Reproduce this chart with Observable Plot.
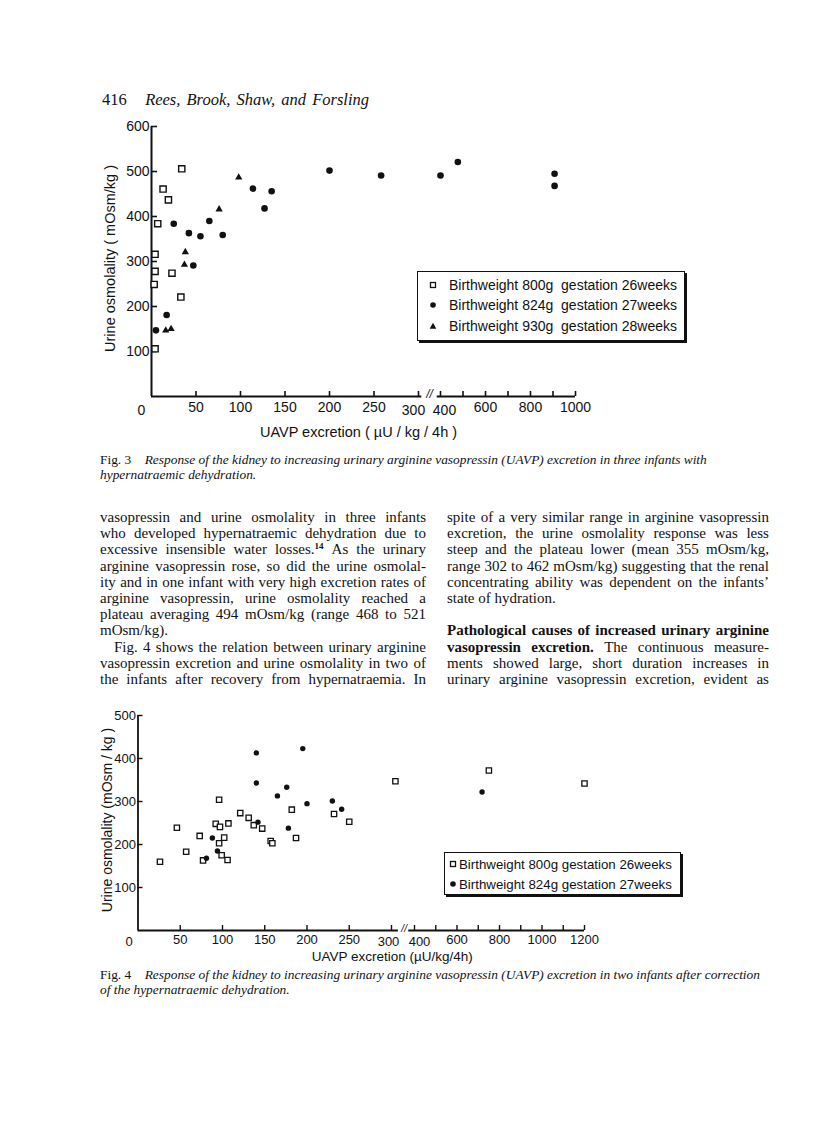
<!DOCTYPE html>
<html>
<head>
<meta charset="utf-8">
<script src="https://cdn.jsdelivr.net/npm/d3@7"></script>
<script src="https://cdn.jsdelivr.net/npm/@observablehq/plot@0.6"></script>
<style>
  body { margin: 0; background: #fff; }
  #page { position: relative; width: 816px; height: 1132px; overflow: hidden; background: #fff; color: #111; }
  .abs { position: absolute; white-space: nowrap; }
  .serif { font-family: "Liberation Serif", "Times New Roman", serif; }
  .sans { font-family: "Liberation Sans", Arial, sans-serif; }
  .line { position: absolute; display: flex; justify-content: space-between; align-items: baseline; white-space: nowrap; height: 16px; line-height: 16px; font-size: 15px; }
  .line.last { justify-content: flex-start; }
  .line.last span { margin-right: 0.25em; }
  .line sup { font-size: 9px; line-height: 0; vertical-align: 5px; font-weight: bold; }
  .legend { position: absolute; box-sizing: border-box; border: 1.6px solid #111; box-shadow: 2px 2px 0 #111; background: #fff; }
  .legrow { position: absolute; white-space: nowrap; display: flex; align-items: center; }
  .plotwrap { position: absolute; left: 0; }
</style>
</head>
<body>
<div id="page"></div>
<script>
// ---------------- Fig. 3 data (UAVP excretion, urine osmolality) ----------------
const fig3_800g = [[4,106],[34,506],[13,461],[19,437],[7,384],[4,316],[4,278],[3,249],[23,274],[33,221]];
const fig3_824g = [[5,147],[17,181],[25,384],[42,363],[47,291],[55,356],[65,390],[80,359],[114,462],[127,418],[135,456],[200,502],[258,491],[400,491],[477,521],[907,495],[907,468]];
const fig3_930g = [[16,147],[22,150],[38,321],[37,293],[76,416],[98,487]];
const fig3XDomain = [0, 300, 400, 1000];
const fig3XTicks = [50,100,150,200,250,300,400,500,600,700,800,900,1000];
const fig3XLabels = [50,100,150,200,250,600,800,1000];
const fig3YTicks = [100,200,300,400,500,600];
const fig3Legend = ["Birthweight 800g\u00a0\u00a0gestation 26weeks", "Birthweight 824g\u00a0\u00a0gestation 27weeks", "Birthweight 930g\u00a0\u00a0gestation 28weeks"];

// ---------------- Fig. 4 data ----------------
const fig4_800g = [[26,160],[46,239],[57,183],[73,220],[77,163],[96,304],[92,248],[97,241],[96,203],[99,175],[102,216],[106,164],[107,249],[121,273],[131,262],[137,245],[147,237],[157,208],[159,203],[182,281],[187,215],[232,271],[250,253],[317,347],[750,372],[1200,342]];
const fig4_824g = [[140,413],[195,423],[140,343],[176,333],[165,313],[200,295],[230,301],[241,282],[142,252],[178,238],[88,215],[94,185],[81,168],[718,322]];
const fig4XDomain = [0, 300, 400, 1200];
const fig4XTicks = [50,100,150,200,250,300,400,500,600,700,800,900,1000,1100,1200];
const fig4XLabels = [50,100,150,200,250,600,800,1000,1200];
const fig4YTicks = [100,200,300,400,500];
const fig4Legend = ["Birthweight 800g gestation 26weeks", "Birthweight 824g gestation 27weeks"];

// ---------------- Page text ----------------
const headerNum = "416";
const headerAuthors = "Rees, Brook, Shaw, and Forsling";
const fig3Caption = ["<span style='font-style:normal'>Fig. 3</span>&nbsp;&nbsp;&nbsp; Response of the kidney to increasing urinary arginine vasopressin (UAVP) excretion in three infants with", "hypernatraemic dehydration."];
const fig4Caption = ["<span style='font-style:normal'>Fig. 4</span>&nbsp;&nbsp;&nbsp; Response of the kidney to increasing urinary arginine vasopressin (UAVP) excretion in two infants after correction", "of the hypernatraemic dehydration."];
const leftLines = [
  {t: "vasopressin and urine osmolality in three infants"},
  {t: "who developed hypernatraemic dehydration due to"},
  {t: "excessive insensible water losses.^14 As the urinary"},
  {t: "arginine vasopressin rose, so did the urine osmolal-"},
  {t: "ity and in one infant with very high excretion rates of"},
  {t: "arginine vasopressin, urine osmolality reached a"},
  {t: "plateau averaging 494 mOsm/kg (range 468 to 521"},
  {t: "mOsm/kg).", last: true},
  {t: "Fig. 4 shows the relation between urinary arginine", indent: true},
  {t: "vasopressin excretion and urine osmolality in two of"},
  {t: "the infants after recovery from hypernatraemia. In"}
];
const rightLines = [
  {t: "spite of a very similar range in arginine vasopressin"},
  {t: "excretion, the urine osmolality response was less"},
  {t: "steep and the plateau lower (mean 355 mOsm/kg,"},
  {t: "range 302 to 462 mOsm/kg) suggesting that the renal"},
  {t: "concentrating ability was dependent on the infants\u2019"},
  {t: "state of hydration.", last: true},
  null,
  {t: "**Pathological **causes **of **increased **urinary **arginine"},
  {t: "**vasopressin **excretion. The continuous measure-"},
  {t: "ments showed large, short duration increases in"},
  {t: "urinary arginine vasopressin excretion, evident as"}
];

const page = document.getElementById("page");
function addDiv(cls, style, html) {
  const d = document.createElement("div");
  d.className = cls;
  d.setAttribute("style", style);
  d.innerHTML = html;
  page.appendChild(d);
  return d;
}

// header
addDiv("abs serif", "left:102px;top:91px;font-size:16.5px;line-height:18px;word-spacing:2px;",
  headerNum + "&nbsp;&nbsp;&nbsp;<i>" + headerAuthors + "</i>");

// body text
function wordHtml(w) {
  let bold = false;
  if (w.startsWith("**")) { bold = true; w = w.slice(2); }
  w = w.replace(/\^(\d+)/, "<sup>$1</sup>");
  return bold ? "<span style='font-weight:bold'>" + w + "</span>" : "<span>" + w + "</span>";
}
function drawColumn(lines, left, width) {
  lines.forEach((ln, i) => {
    if (!ln) return;
    const top = 517 + 16.2 * i - 8;
    const ind = ln.indent ? 14 : 0;
    addDiv("line serif" + (ln.last ? " last" : ""), `left:${left + ind}px;top:${top}px;width:${width - ind}px;`,
      ln.t.split(" ").map(wordHtml).join(""));
  });
}
drawColumn(leftLines, 100, 326);
drawColumn(rightLines, 447, 322);

// captions
function caption(lines, y0) {
  lines.forEach((l, i) => addDiv("abs serif", `left:100px;top:${y0 + i * 14.5 - 8}px;font-size:13.4px;line-height:16px;font-style:italic;`, l));
}
caption(fig3Caption, 460);
caption(fig4Caption, 975);

// legends
function marker(shape) {
  if (shape === "square") return "<svg width='10' height='10'><rect x='2.5' y='2.5' width='5' height='5' fill='#fff' stroke='#111' stroke-width='1.3'/></svg>";
  if (shape === "circle") return "<svg width='10' height='10'><circle cx='5' cy='5' r='2.8' fill='#111'/></svg>";
  return "<svg width='10' height='10'><polygon points='5,1.8 8.3,7.8 1.7,7.8' fill='#111'/></svg>";
}
function legend(box, items, shapes, rowYs, mx, tx, fs) {
  const lg = addDiv("legend", `left:${box[0]}px;top:${box[1]}px;width:${box[2]}px;height:${box[3]}px;`, "");
  items.forEach((t, i) => {
    const r = document.createElement("div");
    r.className = "legrow sans";
    r.setAttribute("style", `left:${mx - 5}px;top:${rowYs[i] - 9}px;height:18px;font-size:${fs}px;color:#111;`);
    r.innerHTML = marker(shapes[i]) + `<span style="margin-left:${tx - mx - 5}px">${t}</span>`;
    lg.appendChild(r);
  });
}

// ---------------- Fig. 3 plot ----------------
const F3 = 14;
const fig3 = Plot.plot({
  width: 816, height: 330,
  marginLeft: 151, marginRight: 241, marginTop: 16, marginBottom: 44,
  x: {type: "linear", domain: fig3XDomain, range: [151, 418, 440, 575]},
  y: {type: "linear", domain: [0, 600], range: [286, 16]},
  style: {fontFamily: "'Liberation Sans', Arial, sans-serif", fontSize: F3 + "px", color: "#111", background: "transparent", overflow: "visible"},
  marks: [
    Plot.ruleX([0], {y1: 0, y2: 600, stroke: "#111", strokeWidth: 2}),
    Plot.ruleY([0], {x1: 0, x2: 315, stroke: "#111", strokeWidth: 2}),
    Plot.ruleY([0], {x1: 385, x2: 1000, stroke: "#111", strokeWidth: 2}),
    Plot.text(["//"], {x: 350, y: 0, dy: -2, text: d => d, fontSize: 12, fontStyle: "italic", fill: "#111"}),
    Plot.ruleX(fig3XTicks, {x: d => d, y1: 0, y2: 0, insetBottom: 5, stroke: "#111", strokeWidth: 1.6}),
    Plot.ruleY(fig3YTicks, {y: d => d, x1: 0, x2: 0, insetRight: -6, stroke: "#111", strokeWidth: 1.6}),
    Plot.axisX({ticks: fig3XLabels, tickSize: 0, tickPadding: 6, tickFormat: d => String(d), label: null, fontSize: F3}),
    Plot.text(["0"], {x: 0, y: 0, dx: -10, dy: 14, text: d => d, fontSize: F3, fill: "#111"}),
    Plot.text(["300"], {x: 300, y: 0, dx: -5, dy: 14, text: d => d, fontSize: F3, fill: "#111"}),
    Plot.text(["400"], {x: 400, y: 0, dx: 4, dy: 14, text: d => d, fontSize: F3, fill: "#111"}),
    Plot.axisY({ticks: fig3YTicks, tickSize: 0, tickPadding: 2, tickFormat: d => String(d), label: null, fontSize: F3}),
    Plot.text(["Urine osmolality ( mOsm/kg )"], {frameAnchor: "left", textAnchor: "middle", lineAnchor: "middle", rotate: -90, dx: -41, dy: -3, text: d => d, fontSize: 14.5, fill: "#111"}),
    Plot.text(["UAVP excretion ( \u00b5U / kg / 4h )"], {frameAnchor: "bottom", textAnchor: "middle", lineAnchor: "middle", dx: -5, dy: 36, text: d => d, fontSize: 14.5, fill: "#111"}),
    Plot.dot(fig3_800g, {x: d => d[0], y: d => d[1], symbol: "square", r: 3.5, fill: "#fff", stroke: "#111", strokeWidth: 1.4}),
    Plot.dot(fig3_824g, {x: d => d[0], y: d => d[1], symbol: "circle", r: 3.3, fill: "#111", stroke: "none"}),
    Plot.dot(fig3_930g, {x: d => d[0], y: d => d[1], symbol: "triangle", r: 2.7, fill: "#111", stroke: "none"})
  ]
});
const w3 = document.createElement("div");
w3.className = "plotwrap"; w3.style.top = "110px";
w3.appendChild(fig3);
page.appendChild(w3);
legend([417, 271, 268, 70], fig3Legend, ["square", "circle", "triangle"], [13, 33, 54], 15, 31, 14);

// ---------------- Fig. 4 plot ----------------
const F4 = 13;
const fig4 = Plot.plot({
  width: 816, height: 265,
  marginLeft: 137.5, marginRight: 232, marginTop: 15, marginBottom: 35,
  x: {type: "linear", domain: fig4XDomain, range: [137.5, 391, 414, 584]},
  y: {type: "linear", domain: [0, 500], range: [230, 15]},
  style: {fontFamily: "'Liberation Sans', Arial, sans-serif", fontSize: F4 + "px", color: "#111", background: "transparent", overflow: "visible"},
  marks: [
    Plot.ruleX([0], {y1: 0, y2: 500, stroke: "#111", strokeWidth: 1.8}),
    Plot.ruleY([0], {x1: 0, x2: 330, stroke: "#111", strokeWidth: 1.8}),
    Plot.ruleY([0], {x1: 375, x2: 1200, stroke: "#111", strokeWidth: 1.8}),
    Plot.text(["//"], {x: 355, y: 0, dy: -2, text: d => d, fontSize: 10, fontStyle: "italic", fill: "#111"}),
    Plot.ruleX(fig4XTicks, {x: d => d, y1: 0, y2: 0, insetBottom: 5, stroke: "#111", strokeWidth: 1.4}),
    Plot.ruleY(fig4YTicks, {y: d => d, x1: 0, x2: 0, insetRight: -5, stroke: "#111", strokeWidth: 1.4}),
    Plot.axisX({ticks: fig4XLabels, tickSize: 0, tickPadding: 4, tickFormat: d => String(d), label: null, fontSize: F4}),
    Plot.text(["0"], {x: 0, y: 0, dx: -9, dy: 11, text: d => d, fontSize: F4, fill: "#111"}),
    Plot.text(["300"], {x: 300, y: 0, dx: -3, dy: 11, text: d => d, fontSize: F4, fill: "#111"}),
    Plot.text(["400"], {x: 400, y: 0, dx: 5, dy: 11, text: d => d, fontSize: F4, fill: "#111"}),
    Plot.axisY({ticks: fig4YTicks, tickSize: 0, tickPadding: 2, tickFormat: d => String(d), label: null, fontSize: F4}),
    Plot.text(["Urine osmolality (mOsm / kg )"], {frameAnchor: "left", textAnchor: "middle", lineAnchor: "middle", rotate: -90, dx: -30, dy: -3, text: d => d, fontSize: 14, fill: "#111"}),
    Plot.text(["UAVP excretion (\u00b5U/kg/4h)"], {frameAnchor: "bottom", textAnchor: "middle", lineAnchor: "middle", dx: 31, dy: 26, text: d => d, fontSize: 13.5, fill: "#111"}),
    Plot.dot(fig4_800g, {x: d => d[0], y: d => d[1], symbol: "square", r: 3, fill: "#fff", stroke: "#111", strokeWidth: 1.3}),
    Plot.dot(fig4_824g, {x: d => d[0], y: d => d[1], symbol: "circle", r: 2.7, fill: "#111", stroke: "none"})
  ]
});
const w4 = document.createElement("div");
w4.className = "plotwrap"; w4.style.top = "700px";
w4.appendChild(fig4);
page.appendChild(w4);
legend([444, 852, 237, 43], fig4Legend, ["square", "circle"], [11, 31], 8, 14, 13.3);
</script>
</body>
</html>
